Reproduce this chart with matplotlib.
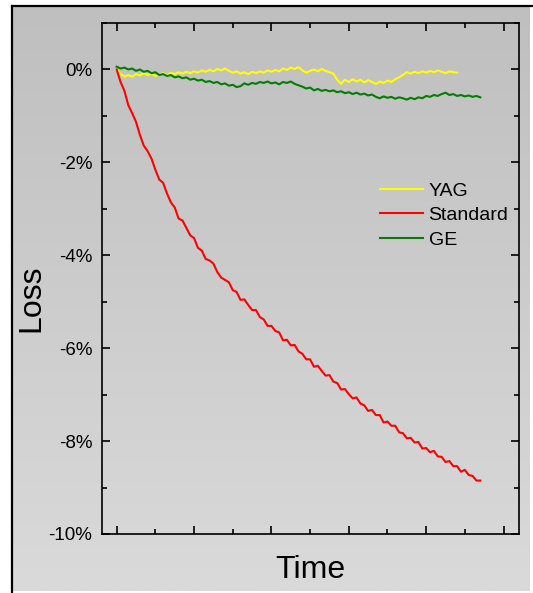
import numpy as np
import matplotlib
matplotlib.use("Agg")
import matplotlib.pyplot as plt
from matplotlib.lines import Line2D
from matplotlib.ticker import MultipleLocator, FuncFormatter

plt.rcParams['font.family'] = ['Liberation Sans', 'DejaVu Sans']

time_step = 0.05

yag = [0.00, -0.10, -0.15, -0.12, -0.16, -0.10, -0.13, -0.08, -0.12, -0.09,
       -0.14, -0.11, -0.08, -0.12, -0.07, -0.10, -0.06, -0.09, -0.05, -0.08,
       -0.04, -0.07, -0.02, -0.05, -0.01, -0.04, 0.01, -0.02, 0.02, -0.03,
       -0.07, -0.04, -0.09, -0.06, -0.10, -0.05, -0.08, -0.04, -0.07, -0.02,
       -0.05, -0.01, -0.04, 0.02, -0.01, 0.04, 0.01, 0.05, -0.02, -0.07,
       -0.03, 0.00, -0.04, 0.01, -0.03, -0.06, -0.09, -0.22, -0.31, -0.22,
       -0.27, -0.21, -0.26, -0.22, -0.28, -0.23, -0.27, -0.31, -0.26, -0.29,
       -0.24, -0.27, -0.21, -0.17, -0.12, -0.06, -0.09, -0.05, -0.08, -0.04,
       -0.07, -0.03, -0.06, -0.02, -0.05, -0.08, -0.04, -0.06, -0.07]

standard = [0.00, -0.27, -0.46, -0.77, -0.94, -1.13, -1.41, -1.64, -1.76, -1.92,
            -2.16, -2.37, -2.44, -2.67, -2.86, -2.97, -3.21, -3.25, -3.41, -3.57,
            -3.63, -3.84, -3.90, -4.08, -4.11, -4.18, -4.36, -4.48, -4.53, -4.58,
            -4.75, -4.79, -4.96, -4.95, -5.07, -5.18, -5.18, -5.33, -5.38, -5.52,
            -5.52, -5.63, -5.66, -5.83, -5.82, -5.94, -5.93, -6.07, -6.12, -6.24,
            -6.24, -6.40, -6.38, -6.49, -6.59, -6.58, -6.72, -6.75, -6.89, -6.88,
            -6.99, -7.08, -7.06, -7.19, -7.23, -7.35, -7.33, -7.44, -7.44, -7.60,
            -7.58, -7.67, -7.67, -7.81, -7.83, -7.94, -7.93, -8.03, -8.02, -8.16,
            -8.15, -8.24, -8.21, -8.33, -8.34, -8.45, -8.43, -8.54, -8.54, -8.66,
            -8.62, -8.73, -8.75, -8.85, -8.85]

ge = [0.06, 0.02, 0.04, 0.00, 0.02, -0.03, 0.00, -0.05, -0.03, -0.08,
      -0.06, -0.12, -0.10, -0.14, -0.12, -0.17, -0.15, -0.19, -0.17, -0.22,
      -0.20, -0.24, -0.22, -0.27, -0.25, -0.29, -0.27, -0.32, -0.30, -0.35,
      -0.33, -0.38, -0.36, -0.30, -0.33, -0.29, -0.31, -0.27, -0.29, -0.26,
      -0.30, -0.28, -0.32, -0.27, -0.29, -0.26, -0.31, -0.34, -0.37, -0.41,
      -0.39, -0.45, -0.42, -0.46, -0.44, -0.47, -0.45, -0.49, -0.47, -0.51,
      -0.49, -0.53, -0.50, -0.54, -0.52, -0.56, -0.54, -0.59, -0.62, -0.58,
      -0.61, -0.59, -0.63, -0.60, -0.62, -0.65, -0.61, -0.64, -0.60, -0.62,
      -0.57, -0.59, -0.55, -0.57, -0.53, -0.50, -0.55, -0.53, -0.57, -0.55,
      -0.58, -0.56, -0.59, -0.57, -0.60]

series_names = ["YAG", "Standard", "GE"]
series_colors = ["#ffff00", "#ff0000", "#008000"]

W, H = 533, 593
fig = plt.figure(figsize=(W / 100, H / 100), dpi=100)
fig.patch.set_facecolor("white")

def fx(px):
    return px / W

def fy(py):
    return 1 - py / H

# gradient background panel
bg = fig.add_axes([fx(12), fy(591), fx(530) - fx(12), fy(6) - fy(591)])
grad = np.linspace(191, 218, 256).reshape(-1, 1) / 255.0
bg.imshow(np.dstack([grad, grad, grad]), aspect="auto", extent=[0, 1, 0, 1], origin="upper")
bg.set_axis_off()
bg.set_zorder(-1)

# borders
fig.add_artist(Line2D([fx(12), fx(12)], [fy(593), fy(6)], color="black", lw=1.6))
fig.add_artist(Line2D([fx(12), fx(533)], [fy(6), fy(6)], color="black", lw=1.6))

ax = fig.add_axes([fx(102), fy(534), fx(519) - fx(102), fy(23) - fy(534)])
ax.patch.set_alpha(0)

for vals, name, col in zip([yag, standard, ge], series_names, series_colors):
    t = np.arange(len(vals)) * time_step
    ax.plot(t, vals, color=col, lw=1.5, label=name)

ax.set_xlim(-0.19, 5.2)
ax.set_ylim(-10, 1)
ax.xaxis.set_major_locator(MultipleLocator(1))
ax.xaxis.set_minor_locator(MultipleLocator(0.5))
ax.yaxis.set_major_locator(MultipleLocator(2))
ax.yaxis.set_minor_locator(MultipleLocator(1))
ax.yaxis.set_major_formatter(FuncFormatter(lambda v, p: f"{int(round(v))}%"))
ax.tick_params(which="both", direction="in", top=True, right=True, width=1.2)
ax.tick_params(which="major", length=6, labelsize=13.5, pad=7)
ax.tick_params(which="minor", length=3.5)
ax.tick_params(axis="x", labelbottom=False)
for s in ax.spines.values():
    s.set_linewidth(1.2)

ax.set_ylabel("Loss", fontsize=23)
ax.yaxis.set_label_coords(fx(31), fy(298), transform=fig.transFigure)
ax.yaxis.label.set_verticalalignment("center")
ax.set_xlabel("Time", fontsize=23, labelpad=12)

leg = ax.legend(loc="upper left", bbox_to_anchor=(fx(380), fy(182)),
                bbox_transform=fig.transFigure, frameon=False, fontsize=14,
                handlelength=2.2, handletextpad=0.3, labelspacing=0.36,
                borderpad=0, borderaxespad=0)

fig.savefig("out.png", dpi=100)
